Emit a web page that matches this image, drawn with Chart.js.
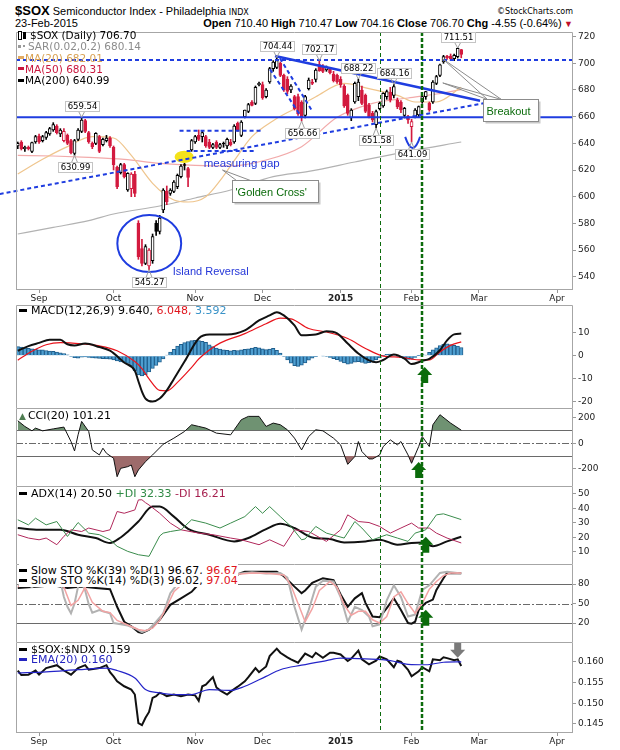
<!DOCTYPE html>
<html>
<head>
<meta charset="utf-8">
<title>$SOX Semiconductor Index</title>
<script src="https://cdn.jsdelivr.net/npm/chart.js@4.4.1/dist/chart.umd.min.js"></script>
<style>
  html, body { margin: 0; padding: 0; background: #fff; }
  body { position: relative; width: 620px; height: 750px; overflow: hidden; font-family: "Liberation Sans", Arial, sans-serif; }
  canvas { position: absolute; left: 0; }
  .t { position: absolute; white-space: nowrap; color: #000; }
  .lg { position: absolute; left: 19px; white-space: nowrap; font: 11px "DejaVu Sans", sans-serif; color: #000; }
  .lg i { display: inline-block; height: 3px; width: 8px; margin-right: 4px; vertical-align: middle; position: relative; top: -1px; }
  .lg span.w { background: #fff; }
</style>
</head>
<body>

<div class="t" style="left:15px;top:4px;line-height:13px;font-size:11px"><b style="font-size:13px">$SOX</b> Semiconductor Index - Philadelphia <span style="font:8px 'DejaVu Sans'">INDX</span></div>
<div class="t" style="right:47px;top:7px;line-height:8px;font:8px 'DejaVu Sans'">&copy;StockCharts.com</div>
<div class="t" style="left:15px;top:18px;line-height:11px;font-size:11px">23-Feb-2015</div>
<div class="t" style="right:47px;top:18px;line-height:11px;font-size:11px"><b>Open</b> 710.40 <b>High</b> 710.47 <b>Low</b> 704.16 <b>Close</b> 706.70 <b>Chg</b> -4.55 (-0.64%)<span style="color:#c0102a;font-size:9px"> &#9660;</span></div>

<canvas id="cMain" width="620" height="273" style="top:32px"></canvas>
<canvas id="cMacd" width="620" height="103" style="top:305px"></canvas>
<canvas id="cCci" width="620" height="78" style="top:408px"></canvas>
<canvas id="cAdx" width="620" height="78" style="top:486px"></canvas>
<canvas id="cSto" width="620" height="78" style="top:564px"></canvas>
<canvas id="cRatio" width="620" height="108" style="top:642px"></canvas>

<div class="lg" style="top:30px;line-height:11.3px;font-size:10.5px;left:18px">
  <div><i style="width:2px;height:7px;border:1px solid #000;background:#fff;margin-right:1px"></i><i style="width:3px;height:7px;background:#000;margin-right:4px"></i>$SOX (Daily) 706.70</div>
  <div style="color:#8c8c8c"><i style="width:3px;height:3px;background:#9a9a9a;margin-right:2px"></i><i style="width:2px;height:2px;background:#9a9a9a;margin-right:3px"></i>SAR(0.02,0.2) 680.14</div>
  <div style="color:#d9a255"><i style="width:6px;background:#e2aa62;margin-right:1px"></i>MA(20) 682.01</div>
  <div style="color:#c9163d"><i style="width:6px;background:#c9163d;margin-right:1px"></i>MA(50) 680.31</div>
  <div><i style="width:6px;background:#000;margin-right:1px"></i>MA(200) 640.99</div>
</div>
<div class="lg" style="top:305px;line-height:11px"><i style="background:#000"></i>MACD(12,26,9) 9.640, <span style="color:#e0141c">6.048,</span> <span style="color:#3a93c8">3.592</span></div>
<div class="lg" style="top:410px;line-height:11px"><span style="color:#4f7d52;font-size:9px;margin-right:2px">&#9650;</span>CCI(20) 101.21</div>
<div class="lg" style="top:488px;line-height:11px"><i style="background:#000"></i>ADX(14) 20.50 <span style="color:#2f8a45">+DI 32.33</span> <span style="color:#a51d4c">-DI 16.21</span></div>
<div class="lg" style="top:566px;line-height:10px">
  <div><span class="w"><i style="background:#000"></i>Slow STO %K(39) %D(1) 96.67, <span style="color:#e0141c">96.67</span></span></div>
  <div><span class="w"><i style="background:#000"></i>Slow STO %K(14) %D(3) 96.02, <span style="color:#e0141c">97.04</span></span></div>
</div>
<div class="lg" style="top:645px;line-height:10px">
  <div><i style="background:#000"></i>$SOX:$NDX 0.159</div>
  <div style="color:#2424c0"><i style="background:#2424c0"></i>EMA(20) 0.160</div>
</div>

<script>
// ---- time axis: one slot per trading day, 22-Aug-2014 .. 23-Feb-2015 (126 bars), then blank days into April
const SLOTS = 157;
const MONTHS = ['Sep', 'Oct', 'Nov', 'Dec', '2015', 'Feb', 'Mar', 'Apr'];
const MONTH_START = [6, 27, 50, 69, 91, 111, 130, 152];

// ---- daily $SOX prices
const OPEN = [
  638, 641, 636, 637, 634, 641, 645.5, 642, 644.5, 647,
  650, 653, 647, 642, 646, 642, 632.5, 643, 649, 657,
  648, 640, 640, 645, 639, 642, 644, 637, 622, 618,
  624, 605, 606, 617, 580, 561, 550, 548, 552, 580,
  574, 590, 604, 602.5, 604, 607.5, 615, 624, 621, 635,
  641, 646, 645, 645, 641, 637, 641, 637, 640, 638,
  641, 641, 655, 646, 660, 664, 671, 670, 684, 684,
  675, 686, 696, 697, 700, 691, 688, 680, 675, 675,
  671, 661, 681, 686, 688, 699, 697, 695, 696, 692,
  691, 688, 683, 676, 659, 671, 675, 680, 676, 668.5,
  662.5, 654, 666, 668, 675, 678.5, 676, 672.5, 671, 661,
  660, 652.5, 660, 661.3, 671, 675, 670, 671, 685, 691,
  701, 705.5, 705.5, 703.5, 705, 710.40
];
const HIGH = [
  641, 642, 638, 638, 641, 646, 647, 646, 649, 652,
  655.5, 654, 651, 651, 647, 643, 643, 651, 659.54, 658,
  649, 641, 648, 646, 644, 646, 645, 638, 623, 625,
  625, 618, 618, 619, 582, 568, 564, 561, 572, 582,
  586, 606, 608, 606, 612, 617, 624, 625, 622, 643,
  646, 650, 649, 646, 643, 640, 642, 640, 641, 644,
  643, 654, 656, 657, 665, 670, 672, 683, 686, 686,
  681, 697, 702, 704.44, 701, 692, 690, 684, 676, 677,
  672, 676, 689, 688, 696, 702.17, 699, 698, 697, 694,
  692, 690, 684, 677, 666, 686, 688.22, 683, 677, 670,
  664, 665, 671, 678, 680, 682, 684.16, 674, 672, 667,
  661, 658, 666, 668, 676, 679, 671, 687, 691, 699.5,
  706, 706, 707, 707, 711.51, 710.47
];
const LOW = [
  636, 635, 634, 635, 633, 640, 640, 641, 643, 646,
  649, 647, 645, 641, 639, 632, 630.99, 642, 648, 648,
  640, 636, 639, 633, 638, 641, 637, 620, 606, 617,
  614, 604, 600, 600, 553, 548, 549, 545.27, 550, 571,
  572, 588, 594, 601, 603, 606, 614, 620, 607.5, 634,
  640, 642, 641, 637, 636, 636, 636, 636, 637, 636,
  638, 640, 649, 645, 659, 663, 668, 669, 683, 673,
  674, 685, 694, 696, 690, 679, 677, 678, 665, 661,
  656.66, 659, 680, 684, 686, 694, 693, 694, 692, 686,
  685, 682, 667, 661, 657, 670, 672, 669, 663, 659,
  656, 651.58, 665, 667, 673, 671, 674, 666, 663, 659,
  655, 641.09, 659, 660, 670, 673, 664, 670, 684, 690,
  700, 703, 702, 702, 704, 704.16
];
const CLOSE = [
  640, 636, 637, 636, 640.5, 645, 641, 645, 648, 651,
  654, 648, 650, 649, 640, 633, 642, 650, 657.5, 649,
  641, 637.5, 647.5, 634, 643, 644, 638, 624, 607.5, 624,
  615, 617.5, 617, 602.5, 555, 550, 562.5, 560, 570, 574,
  584, 605, 596, 605, 611, 616, 623, 623.5, 614.5, 642,
  645, 643, 648, 638, 637, 639, 637, 639, 639.5, 643,
  639, 653, 650, 656, 665, 669, 668.5, 682, 685, 674,
  680, 696, 701, 702, 691, 680, 679, 683, 666, 662,
  660, 675, 687.5, 685, 695, 694.5, 694, 697, 693, 687,
  686, 684, 668, 662.5, 665, 685, 686, 670, 664, 660,
  657.5, 663.8, 670, 677.5, 678.8, 672.5, 682.5, 667.5, 665, 666.3,
  657.5, 656.3, 665, 667.5, 675, 678.8, 665, 686, 690, 698.8,
  705, 704, 703.5, 706, 711.25, 706.70
];

// ---- overlays, [day, value]
const MA20 = [[0,617],[7,628],[14,637.5],[21,645],[27,644],[32,631],[38,610],[44,597.5],[48,596],[53,600],[57,612],[61,627],[66,645],[72,657],[78,666],[84,675],[92,685],[99,681],[107,676],[112,671],[118,671],[125,682]];
const MA50 = [[0,631],[10,630.5],[20,629.5],[30,628],[40,625],[50,623.5],[60,623],[70,627.5],[80,637.5],[90,659.5],[100,670],[110,674],[118,677],[125,680.3]];
const MA200 = [[0,572],[10,577],[20,582],[27,587],[40,593],[50,599],[60,605],[72,615],[82,619],[95,626],[110,634],[125,641]];

// ---- indicators
const MACD_LINE = [[0,2.2],[3,4.2],[6,5.6],[9,6.9],[12,6.9],[14,5],[16,4.5],[19,5.3],[23,3.8],[26,2.2],[30,-2.9],[33,-6.5],[34,-11],[35,-15.5],[36,-18.5],[38,-19.8],[40,-18.5],[42,-15],[44,-10],[47,-2.5],[51,7.5],[54,9.2],[59,9.2],[64,11],[68,15.3],[71,17.5],[73,18.9],[75,17.5],[78,13.2],[80,8.9],[84,9.2],[87,10.6],[90,9.7],[93,5.3],[96,1],[99,-2],[101,-2.8],[103,-1.8],[106,0.6],[109,-1.2],[111,-3.6],[114,-2.2],[116,-1.3],[119,2.4],[121,6.7],[123,9.3],[125,9.64]];
const MACD_SIGNAL = [[0,-1.9],[4,2],[8,4.8],[12,5.7],[18,5.2],[23,4.3],[28,2.2],[33,-2.5],[35,-5.5],[37,-10],[40,-15],[42,-15.2],[45,-11.5],[49,-5],[51,-1.4],[54,2.5],[57,5.5],[64,9.6],[70,13.9],[74,16.3],[77,16],[82,11.8],[87,10.3],[93,7.5],[98,3.2],[103,-0.1],[108,-0.6],[113,-1.8],[116,-1.8],[119,1.7],[122,4.5],[125,6.05]];
const MACD_HIST = [
  4.0, 3.8, 3.5, 3.2, 3.0, 2.8, 2.6, 2.6, 2.3, 2.1,
  1.9, 1.6, 1.3, 1.0, 0.4, -0.3, -0.8, -1.0, -0.6, -0.5,
  -0.7, -0.9, -1.0, -1.1, -1.2, -1.3, -1.5, -1.8, -2.2, -2.6,
  -2.9, -3.3, -4.5, -6.5, -8.3, -8.7, -8.2, -7.0, -5.5, -4.2,
  -2.8, -1.4, 0.3, 1.6, 2.8, 4.2, 5.0, 5.7, 6.2, 6.6,
  6.7, 6.6, 6.3, 5.8, 4.8, 4.0, 3.3, 2.9, 2.6, 2.4,
  2.2, 2.4, 2.3, 2.6, 2.8, 3.0, 3.3, 3.7, 3.5, 3.0,
  2.7, 2.9, 3.2, 2.4, 1.2, -0.3, -1.8, -3.2, -4.3, -4.6,
  -4.1, -3.1, -1.9, -1.0, -0.4, 0.0, -0.1, -0.3, -0.7, -1.2,
  -1.7, -2.4, -3.1, -3.6, -3.3, -2.8, -2.5, -2.9, -3.3, -3.0,
  -2.6, -1.8, -0.9, 0.1, 0.6, 0.8, 0.4, -0.3, -0.8, -1.2,
  -1.6, -1.5, -0.7, 0.1, 0.5, 0.3, 1.5, 2.6, 3.5, 4.4,
  5.0, 5.2, 4.9, 4.5, 4.2, 3.6
];
const CCI = [[0,174],[2,130],[4,96],[5,117],[7,96],[10,111],[13,125],[15,13],[16,-60],[17,65],[18,169],[20,91],[21,-52],[23,-91],[24,-39],[25,-78],[27,-117],[28,-260],[29,-195],[31,-182],[32,-169],[33,-260],[34,-208],[36,-143],[38,-91],[41,-8],[44,39],[47,91],[49,143],[51,130],[53,117],[56,78],[60,65],[61,104],[63,182],[65,208],[68,208],[70,130],[72,156],[74,143],[76,104],[78,39],[80,-52],[82,52],[84,104],[86,96],[89,39],[91,-13],[93,-164],[95,-104],[96,13],[97,-65],[99,-122],[100,-122],[102,-91],[103,-26],[105,26],[107,-13],[108,13],[110,-91],[111,-156],[113,-26],[114,52],[116,-26],[117,143],[119,221],[122,156],[125,101.21]];
const ADX = [[0,26.5],[6,25.3],[12,25.3],[17,21.9],[22,19.6],[26,16.2],[29,20],[31,24],[34,31],[38,41.3],[40,41.3],[44,34.4],[48,26],[54,21.9],[61,17.3],[65,19.6],[70,25.8],[74,29.4],[78,26.5],[83,20],[88,18.9],[92,16.6],[98,17.3],[102,18.5],[107,15],[111,16.2],[114,16.5],[117,14],[121,17.3],[125,20.5]];
const PLUS_DI = [[0,32.2],[3,28.7],[5,33.3],[8,28.7],[11,31],[14,20.7],[17,30.3],[20,23],[23,21.9],[26,18.4],[28,13.9],[31,10.4],[34,8.1],[37,7],[40,21],[41,23],[43,24.1],[46,25.3],[49,32.2],[53,29.9],[57,26.5],[60,29.9],[64,34.4],[67,41.3],[69,36.7],[71,41.3],[74,34.4],[77,27.6],[80,18.4],[81,19],[84,27.6],[87,23],[92,19.6],[95,31],[97,26.5],[100,18.4],[104,21.9],[107,19.6],[110,17.3],[112,23],[115,25.3],[118,35.6],[120,36.3],[125,32.33]];
const MINUS_DI = [[0,21.9],[3,19.6],[6,18.4],[8,19.6],[11,15],[13,20.8],[15,25.3],[18,24.1],[20,26.5],[24,24.1],[26,25.3],[28,37.9],[30,36.7],[33,39],[34,45.9],[35,46],[36,44],[37,42.4],[40,36.7],[43,29.9],[46,25.3],[51,23],[55,21.9],[60,19.6],[63,18.4],[68,15],[71,18.4],[75,13.9],[78,25.3],[82,24.1],[87,17.3],[91,25.3],[93,35.6],[96,31],[99,30.3],[102,27.6],[105,23],[108,26.5],[111,29.9],[113,26.5],[116,26.5],[118,23],[121,19.6],[125,16.21]];
const STO_K39 = [[0,74],[3,75],[6,76],[10,78],[14,74],[18,76],[22,74],[26,72],[28,45],[30,22],[32,15],[34,6],[35,4.6],[37,9.7],[40,25],[43,48],[46,58],[49,68],[51,80],[52,87],[55,86],[57,85],[60,90],[63,97],[64,99],[68,99],[73,99],[75,92],[78,76],[80,66],[81,70],[83,82],[86,89],[89,86],[91,64],[93,45],[95,58],[97,66],[98,51],[100,30],[102,29],[104,43],[106,58],[108,40],[110,20],[111,19],[112,22],[113,40],[115,51],[117,56],[118,71],[120,89],[121,97],[125,96.67]];
const STO_K14 = [[0,78],[2,82],[4,75],[6,84],[8,80],[10,90],[12,85],[13,60],[14,45],[15,35],[16,50],[17,76],[18,82],[19,70],[20,49],[21,36],[23,40],[24,38],[26,35],[27,20],[29,18],[31,16],[33,12],[35,6],[37,10],[39,22],[41,35],[43,66],[45,80],[48,87],[51,92],[54,95],[58,92],[62,96],[66,98],[70,96],[74,97],[76,90],[78,45],[80,10],[82,40],[84,76],[86,85],[89,84],[91,60],[93,22],[95,45],[97,40],[99,30],[100,15],[102,18],[104,55],[106,78],[108,60],[110,30],[112,33],[114,71],[116,78],[119,97],[121,99],[125,96.02]];
const STO_D3 = [[0,76],[4,78],[8,80],[11,86],[13,75],[15,47],[17,55],[19,75],[21,52],[24,38],[26,36],[28,24],[31,17],[34,10],[36,8],[38,12],[40,24],[42,45],[44,68],[47,83],[51,90],[56,93],[62,95],[66,97],[71,96],[75,94],[77,78],[79,50],[81,22],[83,42],[85,70],[88,84],[90,75],[92,48],[94,32],[96,38],[98,38],[100,25],[102,20],[104,30],[106,60],[108,68],[110,50],[112,35],[114,50],[116,72],[118,84],[120,93],[122,97],[125,97.04]];
const RATIO = [[0,0.1579],[1,0.1568],[3,0.1569],[5,0.1579],[6,0.1569],[8,0.1585],[11,0.1592],[13,0.1579],[15,0.1569],[17,0.1585],[19,0.1592],[20,0.1581],[23,0.1585],[25,0.1592],[26,0.1575],[27,0.1565],[28,0.1553],[30,0.1541],[32,0.1533],[33,0.1521],[34,0.1452],[35,0.1447],[36,0.1465],[37,0.1479],[38,0.1513],[39,0.1517],[40,0.1525],[41,0.1522],[42,0.1517],[44,0.1521],[46,0.1517],[48,0.1521],[50,0.1519],[51,0.1506],[52,0.1541],[53,0.1545],[55,0.1563],[56,0.1538],[57,0.1531],[59,0.1521],[60,0.1528],[62,0.154],[64,0.1553],[65,0.1563],[67,0.1585],[68,0.1575],[70,0.1589],[71,0.1614],[73,0.1632],[74,0.1622],[76,0.1611],[77,0.1606],[79,0.1598],[81,0.162],[83,0.1611],[84,0.1622],[86,0.161],[88,0.1622],[89,0.1622],[91,0.1618],[93,0.1602],[94,0.1608],[96,0.1627],[97,0.1606],[99,0.1594],[101,0.1603],[102,0.1613],[104,0.1606],[106,0.1587],[107,0.1603],[108,0.16],[110,0.1581],[111,0.1565],[113,0.1577],[114,0.1587],[116,0.1577],[117,0.1606],[119,0.1604],[120,0.1611],[121,0.1609],[123,0.1604],[124,0.1606],[125,0.159]];
const RATIO_EMA = [[0,0.1573],[8,0.1576],[17,0.1581],[25,0.1585],[28,0.1579],[33,0.1561],[36,0.1533],[40,0.1525],[44,0.1521],[49,0.1521],[54,0.1533],[60,0.1531],[64,0.1541],[70,0.1565],[74,0.1581],[80,0.1592],[87,0.1603],[91,0.1609],[98,0.1607],[105,0.1603],[110,0.1594],[115,0.1593],[120,0.1599],[125,0.160]];

// ---- axis ticks
const PRICE_TICKS = [540, 560, 580, 600, 620, 640, 660, 680, 700, 720];
const MACD_TICKS = [-20, -10, 0, 10];
const CCI_TICKS = [-200, 0, 200];
const ADX_TICKS = [10, 20, 30, 40, 50];
const STO_TICKS = [20, 50, 80];
const RATIO_TICKS = [0.145, 0.150, 0.155, 0.160];

// ---- chart notes (price levels, trend lines, swing points, signal days)
const RESISTANCE = 702.5;
const SUPPORT = 659.5;
const RISING_TREND = [[-5.1, 602], [131.2, 670]];
const FALLING_TREND = [[72.5, 705.5], [130.3, 672]];
const FLAG_UPPER = [[73.9, 703.8], [82.8, 665]];
const FLAG_LOWER = [[71.1, 695.5], [80, 659.5]];
const BOX_TOP = [[45.6, 649.5], [68.7, 649.5]];
const BOX_BOTTOM = [[47.6, 634.3], [67.3, 634.3]];
const SWING_HIGHS = [18, 73, 85, 96, 106, 124];
const SWING_LOWS = [16, 37, 80, 101, 111];
const SIGNAL_DAYS = [102, 114];

const BLUE = '#1f3de0';
const NOTE_GREEN = '#0b6b0b';

const pts = arr => arr.map(([x, y]) => ({ x, y }));
const days = OPEN.map((_, i) => i);

function xScale(labelHeight) {
  return {
    type: 'linear', min: -0.5, max: SLOTS - 0.5, offset: false,
    display: labelHeight > 0,
    border: { display: false },
    grid: { offset: false, drawOnChartArea: false, drawTicks: true, tickLength: 3, color: '#999' },
    afterBuildTicks: s => { s.ticks = MONTH_START.map(v => ({ value: v })); },
    afterFit: s => { s.height = labelHeight; s.paddingLeft = 0; s.paddingRight = 0; },
    ticks: {
      autoSkip: false, maxRotation: 0, padding: 0, color: '#222',
      font: c => ({ family: 'DejaVu Sans', size: 9, weight: c.index === 4 ? 'bold' : 'normal' }),
      callback: (v, i) => MONTHS[i]
    }
  };
}

function yScale(min, max, ticks, fmt) {
  return {
    position: 'right', min, max,
    border: { display: false },
    grid: { drawOnChartArea: false, drawTicks: true, tickLength: 3, color: '#999' },
    afterBuildTicks: s => { s.ticks = ticks.map(v => ({ value: v })); },
    afterFit: s => { s.width = 47; s.paddingTop = 0; s.paddingBottom = 0; },
    ticks: { padding: 2, color: '#222', font: { family: 'DejaVu Sans', size: 9 }, callback: fmt || (v => String(v)) }
  };
}

function baseOptions(x, y, deco) {
  return {
    responsive: false, animation: false, events: [],
    layout: { padding: { left: 16, right: 0, top: 0, bottom: 0 } },
    plugins: { legend: { display: false }, tooltip: { enabled: false }, panelDeco: deco },
    scales: { x, y }
  };
}

function drawArrow(ctx, px, py, down, color) {
  const s = down ? -1 : 1;
  ctx.fillStyle = color;
  ctx.beginPath();
  ctx.moveTo(px, py);
  ctx.lineTo(px + 7.5, py + s * 8);
  ctx.lineTo(px + 3.5, py + s * 8);
  ctx.lineTo(px + 3.5, py + s * 16);
  ctx.lineTo(px - 3.5, py + s * 16);
  ctx.lineTo(px - 3.5, py + s * 8);
  ctx.lineTo(px - 7.5, py + s * 8);
  ctx.closePath();
  ctx.fill();
}

// reference lines, signal-day markers, arrows and the panel frame
const panelDeco = {
  id: 'panelDeco',
  beforeDatasetsDraw(chart, args, o) {
    const { ctx, chartArea: a } = chart, y = chart.scales.y;
    ctx.save();
    (o.refLines || []).forEach(r => {
      const py = Math.round(y.getPixelForValue(r.v)) + 0.5;
      ctx.strokeStyle = '#6a6a6a'; ctx.lineWidth = 1;
      ctx.setLineDash(r.dashDot ? [7, 2, 2, 2] : []);
      ctx.beginPath(); ctx.moveTo(a.left, py); ctx.lineTo(a.right, py); ctx.stroke();
    });
    ctx.restore();
  },
  afterDatasetsDraw(chart, args, o) {
    const { ctx, chartArea: a } = chart, x = chart.scales.x, y = chart.scales.y;
    ctx.save();
    SIGNAL_DAYS.forEach((d, k) => {
      const px = Math.round(x.getPixelForValue(d)) + (k ? 0 : 0.5);
      ctx.strokeStyle = '#0c6b0c'; ctx.lineWidth = k ? 2.5 : 1;
      ctx.setLineDash(k ? [4, 2] : [4, 3]);
      ctx.beginPath(); ctx.moveTo(px, a.top); ctx.lineTo(px, o.toCanvasBottom ? chart.height : a.bottom); ctx.stroke();
    });
    ctx.setLineDash([]);
    (o.arrows || []).forEach(ar => drawArrow(ctx, x.getPixelForValue(ar.x), y.getPixelForValue(ar.y), ar.down, ar.color));
    ctx.strokeStyle = '#a6a6a6'; ctx.lineWidth = 1;
    ctx.beginPath();
    ctx.moveTo(a.left + 0.5, a.bottom); ctx.lineTo(a.left + 0.5, a.top + 0.5);
    ctx.lineTo(a.right - 0.5, a.top + 0.5); ctx.lineTo(a.right - 0.5, a.bottom);
    if (o.bottomEdge) { ctx.moveTo(a.left, a.bottom - 0.5); ctx.lineTo(a.right, a.bottom - 0.5); }
    ctx.stroke();
    ctx.restore();
  }
};
Chart.register(panelDeco);

// ---- main price chart annotations
function ellipse(ctx, x, y, e) {
  const cx = x.getPixelForValue(e.x), cy = y.getPixelForValue(e.y);
  const rx = Math.abs(x.getPixelForValue(e.x + e.rx) - cx), ry = Math.abs(y.getPixelForValue(e.y + e.ry) - cy);
  ctx.beginPath(); ctx.ellipse(cx, cy, rx, ry, 0, 0, Math.PI * 2);
}

const mainNotes = {
  id: 'mainNotes',
  beforeDatasetsDraw(chart) {
    const { ctx, scales: { x, y } } = chart;
    ctx.save();
    ellipse(ctx, x, y, { x: 46.9, y: 629.8, rx: 2.7, ry: 4.6 });
    ctx.fillStyle = '#f4e21a'; ctx.fill();
    ctx.restore();
  },
  afterDatasetsDraw(chart) {
    const { ctx, chartArea: a, scales: { x, y } } = chart;
    ctx.save();
    // island reversal ring
    ellipse(ctx, x, y, { x: 37.06, y: 564.9, rx: 9.0, ry: 21.4 });
    ctx.strokeStyle = BLUE; ctx.lineWidth = 2; ctx.stroke();
    // smile under the February low
    const sx = x.getPixelForValue(111.3), sTop = y.getPixelForValue(644.8), sBot = y.getPixelForValue(636.5);
    const hw = x.getPixelForValue(113.4) - sx;
    ctx.beginPath(); ctx.moveTo(sx - hw, sTop); ctx.quadraticCurveTo(sx, sBot + (sBot - sTop), sx + hw, sTop); ctx.stroke();

    // free text
    ctx.font = '11.5px "Liberation Sans"'; ctx.textBaseline = 'middle'; ctx.textAlign = 'left';
    ctx.fillStyle = '#2436d8';
    ctx.fillText('measuring gap', x.getPixelForValue(52.4), y.getPixelForValue(624.5));
    ctx.font = '11px "Liberation Sans"';
    ctx.fillText('Island Reversal', x.getPixelForValue(43.7), y.getPixelForValue(543.7));

    // callout boxes
    [
      { text: "'Golden Cross'", box: [60.3, 612.5, 84.5, 596], tips: [[57.7, 620]] },
      { text: 'Breakout', box: [131.1, 673.3, 146.6, 656.8], tips: [[119.8, 703.3], [119.8, 685.3]] }
    ].forEach(c => {
      const l = Math.round(x.getPixelForValue(c.box[0])) + 0.5, t = Math.round(y.getPixelForValue(c.box[1])) + 0.5;
      const r = Math.round(x.getPixelForValue(c.box[2])) + 0.5, b = Math.round(y.getPixelForValue(c.box[3])) + 0.5;
      ctx.lineWidth = 1; ctx.strokeStyle = '#8c8c8c';
      c.tips.forEach(([tx, ty]) => {
        const px = x.getPixelForValue(tx), py = y.getPixelForValue(ty);
        ctx.beginPath(); ctx.moveTo(l + 4, t); ctx.lineTo(px, py); ctx.lineTo(l + 18, t); ctx.stroke();
      });
      ctx.fillStyle = '#c8c8c8'; ctx.fillRect(l + 2, t + 2, r - l, b - t);
      ctx.fillStyle = '#fff'; ctx.fillRect(l, t, r - l, b - t);
      ctx.strokeStyle = '#8c8c8c'; ctx.strokeRect(l, t, r - l, b - t);
      ctx.fillStyle = NOTE_GREEN; ctx.font = '11px "Liberation Sans"';
      ctx.fillText(c.text, l + 3, (t + b) / 2 + 1);
    });

    // swing high / low value boxes
    ctx.font = '8.5px "DejaVu Sans"'; ctx.textAlign = 'center';
    const box = (i, v, above) => {
      const px = x.getPixelForValue(i), py = y.getPixelForValue(v);
      const txt = v.toFixed(2), w = Math.round(ctx.measureText(txt).width) + 4, h = 10;
      const cy = above ? py - 11 : Math.min(py + 12, a.bottom - 7);
      const bx = Math.round(px - w / 2) + 0.5, by = Math.round(cy - h / 2) + 0.5;
      const edge = above ? by + h : by;
      ctx.strokeStyle = '#a0a0a0'; ctx.lineWidth = 1;
      ctx.beginPath(); ctx.moveTo(px - 3, edge); ctx.lineTo(px, py); ctx.lineTo(px + 3, edge); ctx.stroke();
      ctx.fillStyle = '#fff'; ctx.fillRect(bx, by, w, h);
      ctx.strokeStyle = '#c4c4c4'; ctx.strokeRect(bx, by, w, h);
      ctx.fillStyle = '#000'; ctx.fillText(txt, bx + w / 2, by + h / 2 + 0.5);
    };
    SWING_HIGHS.forEach(i => box(i, HIGH[i], true));
    SWING_LOWS.forEach(i => box(i, LOW[i], false));
    ctx.restore();
  }
};

// ---- candles
const barColor = CLOSE.map((c, i) => c < (i ? CLOSE[i - 1] : OPEN[i]) ? '#d31a3f' : '#000');
const bodyFill = days.map(i => CLOSE[i] > OPEN[i] ? '#fff' : barColor[i]);

function line(data, color, width, extra) {
  return Object.assign({ type: 'line', data: pts(data), borderColor: color, borderWidth: width,
    pointRadius: 0, fill: false, tension: 0 }, extra || {});
}
const smooth = { cubicInterpolationMode: 'monotone', tension: 0.4 };
const full = v => [[-0.5, v], [SLOTS - 0.5, v]];

new Chart(document.getElementById('cMain'), {
  type: 'bar',
  data: {
    datasets: [
      line(MA200, '#b2b2b2', 1.2, Object.assign({ order: 30 }, smooth)),
      line(MA50, '#f2aaaa', 1.2, Object.assign({ order: 29 }, smooth)),
      line(MA20, '#efc58d', 1.2, Object.assign({ order: 28 }, smooth)),
      { type: 'bar', order: 20, grouped: false, barThickness: 1,
        data: days.map(i => ({ x: i, y: [LOW[i], HIGH[i]] })), backgroundColor: barColor, borderWidth: 0 },
      { type: 'bar', order: 19, grouped: false, barThickness: 3, borderSkipped: false,
        data: days.map(i => ({ x: i, y: [Math.min(OPEN[i], CLOSE[i]), Math.max(OPEN[i], CLOSE[i])] })),
        backgroundColor: bodyFill, borderColor: barColor, borderWidth: 1 },
      line(full(SUPPORT), BLUE, 2, { order: 5 }),
      line(full(RESISTANCE), BLUE, 2, { order: 5, borderDash: [4, 3] }),
      line(RISING_TREND, BLUE, 2, { order: 4, borderDash: [4, 3], clip: { left: false, top: 0, right: 0, bottom: 0 } }),
      line(FALLING_TREND, BLUE, 2.5, { order: 4 }),
      line(FLAG_UPPER, BLUE, 2, { order: 4, borderDash: [4, 3] }),
      line(FLAG_LOWER, BLUE, 2, { order: 4, borderDash: [4, 3] }),
      line(BOX_TOP, BLUE, 2, { order: 4, borderDash: [4, 3] }),
      line(BOX_BOTTOM, BLUE, 2, { order: 4, borderDash: [4, 3] })
    ]
  },
  options: baseOptions(xScale(15), yScale(530, 723.5, PRICE_TICKS), { toCanvasBottom: true, bottomEdge: true }),
  plugins: [mainNotes]
});

new Chart(document.getElementById('cMacd'), {
  type: 'bar',
  data: {
    datasets: [
      line(MACD_SIGNAL, '#e8141c', 1.2, Object.assign({ order: 2 }, smooth)),
      line(MACD_LINE, '#111', 2, Object.assign({ order: 1 }, smooth)),
      { type: 'bar', order: 10, data: days.map(i => ({ x: i, y: MACD_HIST[i] })),
        barPercentage: 1, categoryPercentage: 1, backgroundColor: '#4e9ed0', borderColor: '#1f5e8c', borderWidth: 1 }
    ]
  },
  options: baseOptions(xScale(0), yScale(-22.6, 22, MACD_TICKS),
    { arrows: [{ x: 114.7, y: -4.85, color: '#0b6b0b' }] })
});

new Chart(document.getElementById('cCci'), {
  type: 'line',
  data: {
    datasets: [
      line(CCI, '#111', 1, { fill: { target: { value: 100 }, above: '#6f9272', below: 'rgba(0,0,0,0)' } }),
      line(CCI, 'rgba(0,0,0,0)', 0, { fill: { target: { value: -100 }, above: 'rgba(0,0,0,0)', below: '#9d6b6b' } })
    ]
  },
  options: baseOptions(xScale(0), yScale(-332, 273, CCI_TICKS),
    { refLines: [{ v: 100 }, { v: -100 }, { v: 0, dashDot: true }], arrows: [{ x: 113, y: -146, color: '#0b6b0b' }] })
});

new Chart(document.getElementById('cAdx'), {
  type: 'line',
  data: {
    datasets: [
      line(PLUS_DI, '#3a8c4c', 1),
      line(MINUS_DI, '#b0275a', 1),
      line(ADX, '#111', 2, smooth)
    ]
  },
  options: baseOptions(xScale(0), yScale(1.7, 55.5, ADX_TICKS),
    { arrows: [{ x: 115, y: 20.5, color: '#0b6b0b' }] })
});

new Chart(document.getElementById('cSto'), {
  type: 'line',
  data: {
    datasets: [
      line(STO_D3, '#f3a3a3', 1.5),
      line(STO_K14, '#b2b2b2', 2),
      line(STO_K39, '#111', 2)
    ]
  },
  options: baseOptions(xScale(0), yScale(-9.2, 110.8, STO_TICKS),
    { refLines: [{ v: 80 }, { v: 20 }, { v: 50, dashDot: true }], arrows: [{ x: 115, y: 40.5, color: '#0b6b0b' }] })
});

new Chart(document.getElementById('cRatio'), {
  type: 'line',
  data: {
    datasets: [
      line(RATIO_EMA, '#2424c8', 1.2, smooth),
      line(RATIO, '#111', 2)
    ]
  },
  options: baseOptions(xScale(17), yScale(0.1428, 0.1648, RATIO_TICKS, v => v.toFixed(3)),
    { bottomEdge: true, arrows: [{ x: 124, y: 0.1610, down: true, color: '#7a7a7a' }] })
});
</script>
</body>
</html>
